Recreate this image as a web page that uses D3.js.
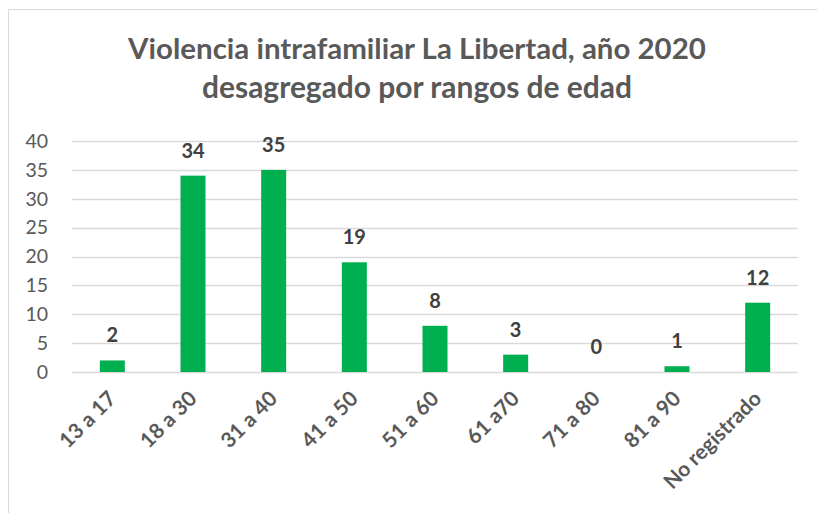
<!DOCTYPE html>
<html>
<head>
<meta charset="utf-8">
<script src="https://cdn.jsdelivr.net/npm/d3@7"></script>
<style>
  body { margin: 0; background: #fff; }
  svg { display: block; font-family: Lato, 'Open Sans', sans-serif; }
</style>
</head>
<body>
<svg id="chart" width="817" height="513"></svg>
<script>
const categories = ['13 a 17', '18 a 30', '31 a 40', '41 a 50', '51 a 60', '61 a70', '71 a 80', '81 a 90', 'No registrado'];
const values = [2, 34, 35, 19, 8, 3, 0, 1, 12];
const yTicks = [0, 5, 10, 15, 20, 25, 30, 35, 40];
const titleLines = ['Violencia intrafamiliar La Libertad, año 2020', 'desagregado por rangos de edad'];

const svg = d3.select('#chart');

// chart frame
svg.append('rect')
  .attr('x', 8.5).attr('y', 9.5)
  .attr('width', 830).attr('height', 530)
  .attr('fill', '#fff')
  .attr('stroke', '#d9d9d9');

const margin = { left: 72, right: 19 };
const x = d3.scaleBand().domain(categories).range([margin.left, 817 - margin.right]).paddingInner(0.69).paddingOuter(0.345);
const y = d3.scaleLinear().domain([0, 40]).range([372, 141]);

// title
const title = svg.append('g');
const titleWidths = [578, 430];
titleLines.forEach((t, i) => {
  const txt = title.append('text')
    .attr('x', 417)
    .attr('y', 59 + i * 39)
    .attr('text-anchor', 'middle')
    .style('font-size', '26px')
    .style('font-weight', 'bold')
    .style('fill', '#595959')
    .text(t);
  const w = txt.node().getComputedTextLength();
  txt.style('font-size', (26 * titleWidths[i] / w).toFixed(2) + 'px');
});

// gridlines
svg.append('g')
  .selectAll('line')
  .data(yTicks)
  .join('line')
  .attr('x1', margin.left).attr('x2', 817 - margin.right)
  .attr('y1', d => Math.round(y(d)) + 0.5).attr('y2', d => Math.round(y(d)) + 0.5)
  .attr('stroke', '#d9d9d9')
  .attr('stroke-width', 1.3);

// y axis labels
const yAxis = svg.append('g')
  .attr('transform', `translate(${margin.left},0)`)
  .call(d3.axisLeft(y).tickValues(yTicks).tickSize(0).tickPadding(24));
yAxis.select('.domain').remove();
yAxis.selectAll('text')
  .style('font-family', 'Lato, sans-serif')
  .style('font-size', '19.5px')
  .style('fill', '#595959');

// bars
svg.append('g')
  .selectAll('rect')
  .data(values)
  .join('rect')
  .attr('x', (d, i) => x(categories[i]))
  .attr('y', d => y(d))
  .attr('width', x.bandwidth())
  .attr('height', d => y(0) - y(d))
  .attr('fill', '#00b050');

// data labels
svg.append('g')
  .selectAll('text')
  .data(values)
  .join('text')
  .attr('x', (d, i) => x(categories[i]) + x.bandwidth() / 2)
  .attr('y', d => y(d) - 18)
  .attr('text-anchor', 'middle')
  .style('font-size', '20px')
  .style('font-weight', 'bold')
  .style('fill', '#404040')
  .text(d => d);

// x axis labels
const xAxis = svg.append('g')
  .attr('transform', `translate(0,${y(0)})`)
  .call(d3.axisBottom(x).tickSize(0).tickPadding(0));
xAxis.select('.domain').remove();
xAxis.selectAll('text')
  .attr('dy', 0)
  .attr('transform', 'translate(5,28) rotate(-45)')
  .attr('text-anchor', 'end')
  .style('font-family', 'Lato, sans-serif')
  .style('font-size', '21px')
  .style('font-weight', 'bold')
  .style('fill', '#595959');
</script>
</body>
</html>
